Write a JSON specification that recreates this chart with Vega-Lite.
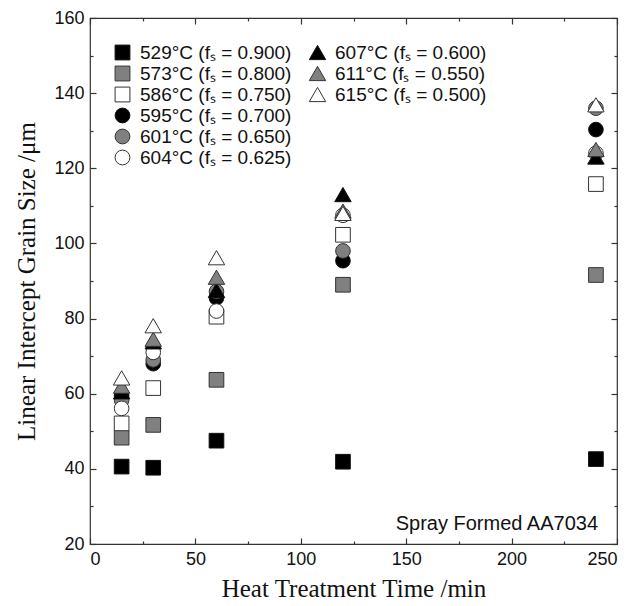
{
  "$schema": "https://vega.github.io/schema/vega-lite/v6.json",
  "width": 527,
  "height": 526,
  "autosize": {"type": "none"},
  "padding": {"left": 90, "top": 18, "right": 16, "bottom": 62},
  "config": {
    "view": {"stroke": "#333", "strokeWidth": 1.2},
    "font": "Liberation Sans",
    "axis": {
      "domain": false,
      "grid": false,
      "tickColor": "#333",
      "tickWidth": 1.2,
      "labelFont": "Liberation Sans",
      "labelFontSize": 18,
      "labelColor": "#111",
      "titleFont": "Liberation Serif",
      "titleFontSize": 25,
      "titleFontWeight": "normal",
      "titleColor": "#111"
    },
    "legend": {
      "labelFont": "Liberation Sans",
      "labelFontSize": 19,
      "labelColor": "#111",
      "symbolStrokeWidth": 1,
      "symbolSize": 220,
      "rowPadding": 1,
      "labelOffset": 8,
      "padding": 0,
      "title": null
    }
  },
  "datasets": {
    "pts": [
      {"t": 15, "d": 40.6, "s": "529°C (fₛ = 0.900)", "g": "A"},
      {"t": 30, "d": 40.3, "s": "529°C (fₛ = 0.900)", "g": "A"},
      {"t": 60, "d": 47.5, "s": "529°C (fₛ = 0.900)", "g": "A"},
      {"t": 120, "d": 41.9, "s": "529°C (fₛ = 0.900)", "g": "A"},
      {"t": 240, "d": 42.6, "s": "529°C (fₛ = 0.900)", "g": "A"},
      {"t": 15, "d": 48.3, "s": "573°C (fₛ = 0.800)", "g": "A"},
      {"t": 30, "d": 51.7, "s": "573°C (fₛ = 0.800)", "g": "A"},
      {"t": 60, "d": 63.7, "s": "573°C (fₛ = 0.800)", "g": "A"},
      {"t": 120, "d": 89.0, "s": "573°C (fₛ = 0.800)", "g": "A"},
      {"t": 240, "d": 91.6, "s": "573°C (fₛ = 0.800)", "g": "A"},
      {"t": 15, "d": 52.1, "s": "586°C (fₛ = 0.750)", "g": "A"},
      {"t": 30, "d": 61.5, "s": "586°C (fₛ = 0.750)", "g": "A"},
      {"t": 60, "d": 80.5, "s": "586°C (fₛ = 0.750)", "g": "A"},
      {"t": 120, "d": 102.3, "s": "586°C (fₛ = 0.750)", "g": "A"},
      {"t": 240, "d": 115.8, "s": "586°C (fₛ = 0.750)", "g": "A"},
      {"t": 15, "d": 59.5, "s": "595°C (fₛ = 0.700)", "g": "A"},
      {"t": 30, "d": 68.0, "s": "595°C (fₛ = 0.700)", "g": "A"},
      {"t": 60, "d": 85.5, "s": "595°C (fₛ = 0.700)", "g": "A"},
      {"t": 120, "d": 95.4, "s": "595°C (fₛ = 0.700)", "g": "A"},
      {"t": 240, "d": 130.3, "s": "595°C (fₛ = 0.700)", "g": "A"},
      {"t": 15, "d": 58.3, "s": "601°C (fₛ = 0.650)", "g": "A"},
      {"t": 30, "d": 69.0, "s": "601°C (fₛ = 0.650)", "g": "A"},
      {"t": 60, "d": 87.2, "s": "601°C (fₛ = 0.650)", "g": "A"},
      {"t": 120, "d": 98.0, "s": "601°C (fₛ = 0.650)", "g": "A"},
      {"t": 240, "d": 136.0, "s": "601°C (fₛ = 0.650)", "g": "A"},
      {"t": 15, "d": 56.1, "s": "604°C (fₛ = 0.625)", "g": "A"},
      {"t": 30, "d": 71.0, "s": "604°C (fₛ = 0.625)", "g": "A"},
      {"t": 60, "d": 82.0, "s": "604°C (fₛ = 0.625)", "g": "A"},
      {"t": 120, "d": 107.5, "s": "604°C (fₛ = 0.625)", "g": "A"},
      {"t": 240, "d": 124.0, "s": "604°C (fₛ = 0.625)", "g": "A"},
      {"t": 15, "d": 60.5, "s": "607°C (fₛ = 0.600)", "g": "B"},
      {"t": 30, "d": 73.8, "s": "607°C (fₛ = 0.600)", "g": "B"},
      {"t": 60, "d": 87.5, "s": "607°C (fₛ = 0.600)", "g": "B"},
      {"t": 120, "d": 113.0, "s": "607°C (fₛ = 0.600)", "g": "B"},
      {"t": 240, "d": 123.0, "s": "607°C (fₛ = 0.600)", "g": "B"},
      {"t": 15, "d": 62.0, "s": "611°C (fₛ = 0.550)", "g": "B"},
      {"t": 30, "d": 74.5, "s": "611°C (fₛ = 0.550)", "g": "B"},
      {"t": 60, "d": 91.0, "s": "611°C (fₛ = 0.550)", "g": "B"},
      {"t": 120, "d": 108.6, "s": "611°C (fₛ = 0.550)", "g": "B"},
      {"t": 240, "d": 125.0, "s": "611°C (fₛ = 0.550)", "g": "B"},
      {"t": 15, "d": 64.2, "s": "615°C (fₛ = 0.500)", "g": "B"},
      {"t": 30, "d": 78.1, "s": "615°C (fₛ = 0.500)", "g": "B"},
      {"t": 60, "d": 96.2, "s": "615°C (fₛ = 0.500)", "g": "B"},
      {"t": 120, "d": 108.0, "s": "615°C (fₛ = 0.500)", "g": "B"},
      {"t": 240, "d": 136.9, "s": "615°C (fₛ = 0.500)", "g": "B"}
    ],
    "note": [{"label": "Spray Formed AA7034"}]
  },
  "layer": [
    {
      "data": {"name": "pts"},
      "transform": [{"filter": "datum.g === 'A'"}],
      "mark": {"type": "point", "filled": true, "size": 215, "strokeWidth": 1, "opacity": 1},
      "encoding": {
        "x": {
          "field": "t", "type": "quantitative",
          "scale": {"domain": [0, 250], "nice": false, "zero": false},
          "axis": {
            "title": "Heat Treatment Time /min",
            "orient": "bottom",
            "values": [0, 25, 50, 75, 100, 125, 150, 175, 200, 225, 250],
            "labelExpr": "datum.value % 50 === 0 ? datum.label : ''",
            "tickSize": {"condition": {"test": "datum.value % 50 === 0", "value": -6}, "value": -3},
            "labelPadding": 12,
            "titlePadding": 8
          }
        },
        "y": {
          "field": "d", "type": "quantitative",
          "scale": {"domain": [20, 160], "nice": false, "zero": false},
          "axis": {
            "title": "Linear Intercept Grain Size /μm",
            "orient": "left",
            "values": [20, 30, 40, 50, 60, 70, 80, 90, 100, 110, 120, 130, 140, 150, 160],
            "labelExpr": "datum.value % 20 === 0 ? datum.label : ''",
            "tickSize": {"condition": {"test": "datum.value % 20 === 0", "value": -6}, "value": -3},
            "labelPadding": 12,
            "titlePadding": 14
          }
        },
        "shape": {
          "field": "s", "type": "nominal",
          "scale": {
            "domain": ["529°C (fₛ = 0.900)", "573°C (fₛ = 0.800)", "586°C (fₛ = 0.750)", "595°C (fₛ = 0.700)", "601°C (fₛ = 0.650)", "604°C (fₛ = 0.625)"],
            "range": ["square", "square", "square", "circle", "circle", "circle"]
          },
          "legend": {"orient": "none", "legendX": 23, "legendY": 25}
        },
        "fill": {
          "field": "s", "type": "nominal",
          "scale": {
            "domain": ["529°C (fₛ = 0.900)", "573°C (fₛ = 0.800)", "586°C (fₛ = 0.750)", "595°C (fₛ = 0.700)", "601°C (fₛ = 0.650)", "604°C (fₛ = 0.625)"],
            "range": ["#000000", "#808080", "#ffffff", "#000000", "#808080", "#ffffff"]
          },
          "legend": {"orient": "none", "legendX": 23, "legendY": 25}
        },
        "stroke": {
          "field": "s", "type": "nominal",
          "scale": {
            "domain": ["529°C (fₛ = 0.900)", "573°C (fₛ = 0.800)", "586°C (fₛ = 0.750)", "595°C (fₛ = 0.700)", "601°C (fₛ = 0.650)", "604°C (fₛ = 0.625)"],
            "range": ["#111111", "#333333", "#333333", "#111111", "#333333", "#333333"]
          },
          "legend": {"orient": "none", "legendX": 23, "legendY": 25}
        }
      }
    },
    {
      "data": {"name": "pts"},
      "transform": [{"filter": "datum.g === 'B'"}],
      "mark": {"type": "point", "filled": true, "size": 270, "strokeWidth": 1, "opacity": 1},
      "encoding": {
        "x": {"field": "t", "type": "quantitative", "axis": {
            "orient": "top", "title": null, "labels": false,
            "values": [0, 25, 50, 75, 100, 125, 150, 175, 200, 225, 250],
            "tickSize": {"condition": {"test": "datum.value % 50 === 0", "value": -6}, "value": -3}
        }},
        "y": {"field": "d", "type": "quantitative", "axis": {
            "orient": "right", "title": null, "labels": false,
            "values": [20, 30, 40, 50, 60, 70, 80, 90, 100, 110, 120, 130, 140, 150, 160],
            "tickSize": {"condition": {"test": "datum.value % 20 === 0", "value": -6}, "value": -3}
        }},
        "shape": {
          "field": "s", "type": "nominal",
          "scale": {
            "domain": ["607°C (fₛ = 0.600)", "611°C (fₛ = 0.550)", "615°C (fₛ = 0.500)"],
            "range": ["triangle-up", "triangle-up", "triangle-up"]
          },
          "legend": {"orient": "none", "legendX": 218, "legendY": 25, "symbolSize": 270}
        },
        "fill": {
          "field": "s", "type": "nominal",
          "scale": {
            "domain": ["607°C (fₛ = 0.600)", "611°C (fₛ = 0.550)", "615°C (fₛ = 0.500)"],
            "range": ["#000000", "#808080", "#ffffff"]
          },
          "legend": {"orient": "none", "legendX": 218, "legendY": 25, "symbolSize": 270}
        },
        "stroke": {
          "field": "s", "type": "nominal",
          "scale": {
            "domain": ["607°C (fₛ = 0.600)", "611°C (fₛ = 0.550)", "615°C (fₛ = 0.500)"],
            "range": ["#111111", "#333333", "#333333"]
          },
          "legend": {"orient": "none", "legendX": 218, "legendY": 25, "symbolSize": 270}
        }
      }
    },
    {
      "data": {"name": "note"},
      "mark": {"type": "text", "align": "right", "baseline": "middle", "font": "Liberation Sans", "fontSize": 20, "color": "#111"},
      "encoding": {
        "x": {"datum": 241, "type": "quantitative", "axis": null},
        "y": {"datum": 25.3, "type": "quantitative", "axis": null},
        "text": {"field": "label"}
      }
    }
  ],
  "resolve": {
    "scale": {"shape": "independent", "fill": "independent", "stroke": "independent"},
    "axis": {"x": "independent", "y": "independent"}
  }
}
